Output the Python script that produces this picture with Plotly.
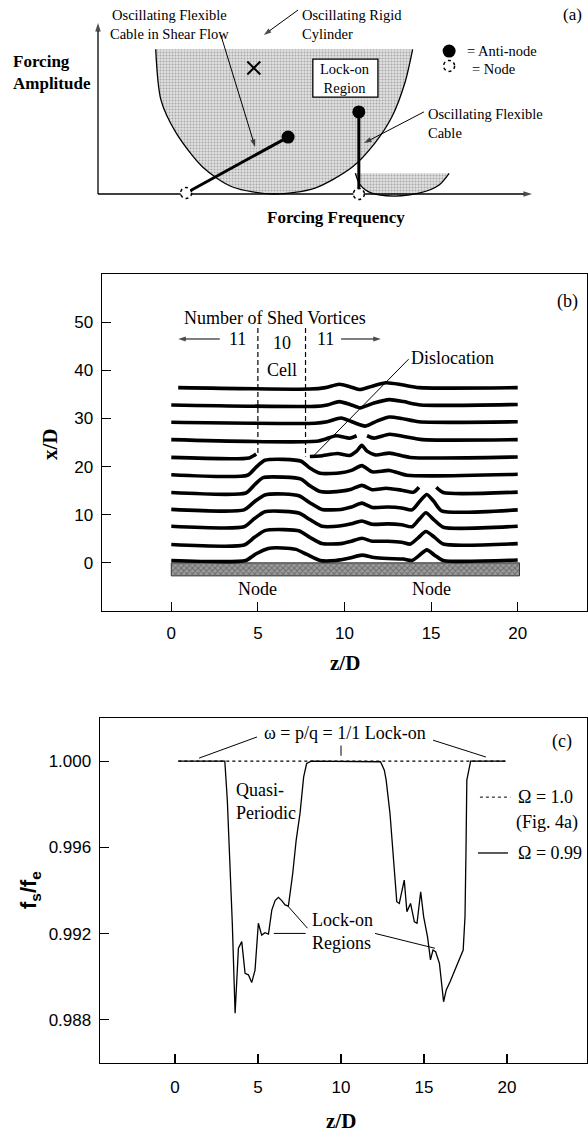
import plotly.graph_objects as go

SERIF = "Liberation Serif, Times New Roman, serif"
SANS = "Liberation Sans, Arial, sans-serif"

# ---------------- Panel (a): schematic, conceptual units (frequency 0-1, amplitude 0-1) ----------------
LOCKON_FREQ = [0.133, 0.145, 0.180, 0.241, 0.310, 0.405, 0.500, 0.586, 0.638, 0.677, 0.707, 0.725]
LOCKON_AMP = [0.846, 0.550, 0.357, 0.158, 0.041, 0.0, 0.035, 0.158, 0.298, 0.450, 0.649, 0.846]
SMALL_FREQ = [0.593, 0.604, 0.629, 0.682, 0.742, 0.786, 0.809]
SMALL_AMP = [0.121, 0.053, 0.006, -0.012, 0.006, 0.053, 0.121]
NODE_FREQ = [0.203, 0.601]
NODE_AMP = [0.006, 0.0]
ANTINODE_FREQ = [0.438, 0.601]
ANTINODE_AMP = [0.333, 0.480]
RIGID_FREQ = [0.359]
RIGID_AMP = [0.737]
LOCKBOX_FREQ = [0.495, 0.645]
LOCKBOX_AMP = [0.567, 0.789]

# ---------------- Panel (b): vortex lines, z/D vs x/D ----------------
C0_Z = [0, 4.3, 4.9, 5.6, 6.4, 7.2, 7.8, 8.6, 9.5, 10.3, 11.0, 11.7, 12.5, 13.4, 13.9, 14.3, 14.75, 15.2, 15.7, 20]
C0_X = [0.5, 0.5, 1.9, 3.0, 3.1, 2.8, 1.8, 0.5, 0.5, 1.0, 1.6, 1.1, 0.9, 0.8, 0.5, 1.5, 2.7, 1.6, 0.5, 0.6]
C1_Z = [0, 4.2, 4.8, 5.4, 6.5, 7.4, 8.0, 8.7, 9.8, 10.4, 11.0, 11.6, 12.5, 13.3, 13.8, 14.25, 14.7, 15.2, 15.7, 20]
C1_X = [3.8, 3.7, 5.3, 6.7, 6.9, 6.6, 5.3, 4.0, 4.0, 4.5, 5.1, 4.5, 4.5, 4.3, 3.9, 5.2, 6.5, 5.3, 3.9, 4.0]
C2_Z = [0, 4.2, 4.8, 5.4, 6.5, 7.4, 8.0, 8.7, 9.8, 10.4, 11.0, 11.6, 12.5, 13.3, 13.9, 14.3, 14.7, 15.15, 15.7, 20]
C2_X = [7.6, 7.5, 9.2, 10.6, 10.7, 10.3, 9.0, 7.6, 7.7, 8.1, 8.7, 8.0, 8.1, 7.9, 7.5, 9.0, 10.4, 9.0, 7.4, 7.6]
C3_Z = [0, 4.2, 4.8, 5.4, 6.5, 7.4, 8.0, 8.7, 9.8, 10.4, 11.0, 11.6, 12.5, 13.3, 13.9, 14.35, 14.75, 15.15, 15.6, 20]
C3_X = [11.1, 11.0, 12.7, 14.1, 14.3, 13.9, 12.5, 11.1, 11.1, 11.6, 12.4, 11.5, 11.6, 11.4, 11.0, 12.8, 14.2, 12.8, 10.8, 11.0]
C4_Z = [0, 4.3, 4.8, 5.3, 6.5, 7.5, 8.0, 8.6, 9.8, 10.4, 11.0, 11.6, 12.4, 13.3, 14.0, 14.3, None, 15.3, 15.7, 20]
C4_X = [14.6, 14.5, 16.2, 17.7, 17.8, 17.4, 16.0, 14.8, 14.9, 15.3, 16.1, 15.2, 15.5, 15.1, 14.7, 15.7, None, 15.7, 14.6, 14.7]
C5_Z = [0, 4.4, 4.9, 5.4, 6.5, 7.5, 8.0, 8.6, 9.8, 10.4, 11.0, 11.6, 12.6, 13.6, 20]
C5_X = [18.3, 18.2, 19.9, 21.3, 21.5, 21.1, 19.7, 18.6, 18.7, 19.2, 20.2, 18.9, 19.2, 18.2, 18.4]
C6_Z = [0, 4.5, 4.9, None, 8.0, 8.6, 9.6, 10.3, 10.7, 11.0, 11.3, 11.8, 12.6, 13.8, 20]
C6_X = [21.9, 21.8, 22.6, None, 22.1, 22.2, 22.7, 22.3, 23.2, 24.4, 23.2, 22.4, 22.8, 21.9, 22.0]
C7_Z = [0, 8.5, 9.5, 10.3, 10.7, None, 11.3, 11.7, 12.6, 13.5, 14.5, 20]
C7_X = [25.6, 25.3, 26.4, 25.9, 26.4, None, 26.4, 25.9, 26.7, 26.2, 25.6, 25.6]
C8_Z = [0, 8.3, 9.0, 9.8, 10.5, 11.2, 11.9, 12.6, 13.3, 14.3, 20]
C8_X = [29.2, 29.0, 29.3, 30.1, 29.2, 28.4, 29.5, 30.3, 30.0, 29.3, 29.3]
C9_Z = [0, 8.3, 9.0, 9.7, 10.4, 10.9, 11.7, 12.6, 13.4, 14.4, 20]
C9_X = [32.8, 32.5, 32.8, 33.5, 32.8, 32.2, 33.2, 33.9, 33.5, 32.8, 32.9]
C10_Z = [0.4, 8.0, 8.9, 9.7, 10.4, 10.9, 11.6, 12.4, 13.3, 14.3, 20]
C10_X = [36.4, 36.1, 36.4, 37.1, 36.5, 36.0, 36.7, 37.4, 37.0, 36.4, 36.4]
CELL_Z = [5.0, 7.75]
CELL_TOP = [48.8, 48.8]
CELL_BOTTOM = [22.8, 22.1]
BED_Z = [0, 20.1]
BED_X = [-2.7, 0]
B_XTICKS = [0, 5, 10, 15, 20]
B_YTICKS = [0, 10, 20, 30, 40, 50]

# ---------------- Panel (c): fs/fe vs z/D ----------------
OMEGA1_Z = [0.2, 19.9]
OMEGA1_F = [1.000, 1.000]
OMEGA099_Z = [0.2, 3.0, 3.15, 3.3, 3.45, 3.62, 3.82, 4.02, 4.22, 4.42, 4.62, 4.82, 5.02, 5.22, 5.42, 5.63,
              5.83, 6.03, 6.23, 6.43, 6.63, 6.83, 7.09, 7.3, 7.53, 7.75, 7.93, 8.2, 12.05, 12.38, 12.61,
              12.72, 12.95, 13.17, 13.36, 13.51, 13.81, 13.97, 14.19, 14.42, 14.58, 14.80, 14.98, 15.21,
              15.39, 15.54, 15.70, 15.93, 16.07, 16.18, 16.34, 16.57, 17.36, 17.47, 17.53, 17.58, 17.81, 19.9]
OMEGA099_F = [1.000, 1.000, 0.9982, 0.9955, 0.9925, 0.98831, 0.99132, 0.99163, 0.99016, 0.99009, 0.98973,
              0.99031, 0.99248, 0.99193, 0.99204, 0.99198, 0.99309, 0.99353, 0.99368, 0.99353, 0.99333,
              0.99328, 0.99479, 0.99634, 0.99758, 0.99927, 0.99989, 1.000, 1.000, 0.99997, 0.99958,
              0.99912, 0.99758, 0.99541, 0.99348, 0.99340, 0.99448, 0.99302, 0.99340, 0.99255, 0.99248,
              0.99394, 0.99278, 0.99186, 0.99078, 0.99124, 0.99116, 0.99062, 0.98970, 0.98884, 0.98939,
              0.98977, 0.99124, 0.99278, 0.99587, 0.99912, 1.000, 1.000]
C_XTICKS = [0, 5, 10, 15, 20]
C_YTICKS = [0.988, 0.992, 0.996, 1.000]

fig = go.Figure()

# ===== Panel (a) =====
pa = dict(xaxis="x3", yaxis="y3", hoverinfo="skip", showlegend=False)
for fx, fy in [(LOCKON_FREQ, LOCKON_AMP), (SMALL_FREQ, SMALL_AMP)]:
    fig.add_trace(go.Scatter(x=fx, y=fy, mode="lines", fill="toself", fillcolor="rgba(0,0,0,0)",
                             fillpattern=dict(shape=".", fgcolor="#707070", bgcolor="#e0e0e0", size=3, solidity=0.35),
                             line=dict(width=0, shape="spline", smoothing=0.8), **pa))
    fig.add_trace(go.Scatter(x=fx, y=fy, mode="lines", line=dict(color="black", width=1.3, shape="spline", smoothing=0.8), **pa))

for i in range(len(NODE_FREQ)):
    fig.add_trace(go.Scatter(x=[NODE_FREQ[i], ANTINODE_FREQ[i]], y=[NODE_AMP[i], ANTINODE_AMP[i]], mode="lines",
                             line=dict(color="black", width=3), **pa))
fig.add_trace(go.Scatter(x=ANTINODE_FREQ + [0.809], y=ANTINODE_AMP + [0.836], mode="markers",
                         marker=dict(color="black", size=13, symbol="circle"), **pa))
fig.add_trace(go.Scatter(x=RIGID_FREQ, y=RIGID_AMP, mode="markers",
                         marker=dict(symbol="x-thin", size=13, line=dict(color="black", width=2)), **pa))

shapes = []
rx, ry = 0.0127, 0.032
for fx, fy in list(zip(NODE_FREQ, NODE_AMP)) + [(0.809, 0.749)]:
    shapes.append(dict(type="circle", xref="x3", yref="y3", x0=fx - rx, x1=fx + rx, y0=fy - ry, y1=fy + ry,
                       line=dict(color="black", width=1.5, dash="dot"), fillcolor="white"))
shapes.append(dict(type="rect", xref="x3", yref="y3", x0=LOCKBOX_FREQ[0], x1=LOCKBOX_FREQ[1],
                   y0=LOCKBOX_AMP[0], y1=LOCKBOX_AMP[1], line=dict(color="black", width=1.3), fillcolor="white",
                   layer="above"))

ann = []


def txt(x, y, s, xref, yref, size=18, family=SERIF, xanchor="center", yanchor="middle", align="center", angle=0):
    ann.append(dict(x=x, y=y, text=s, xref=xref, yref=yref, showarrow=False, xanchor=xanchor, yanchor=yanchor,
                    align=align, textangle=angle, font=dict(family=family, size=size, color="black")))


def arrow(x, y, ax, ay, xa, ya, width=1.0, size=9):
    # line from (ax, ay) to the arrow tip at (x, y), with a head oriented along the segment
    fig.add_trace(go.Scatter(x=[ax, x], y=[ay, y], mode="lines+markers", xaxis=xa, yaxis=ya,
                             line=dict(color="black", width=width),
                             marker=dict(symbol="arrow", size=[0, size], angleref="previous", color="black",
                                         line=dict(width=0)),
                             hoverinfo="skip", showlegend=False, cliponaxis=False))


def seg(x0, y0, x1, y1, xref, yref, width=1.0, dash="solid"):
    shapes.append(dict(type="line", xref=xref, yref=yref, x0=x0, y0=y0, x1=x1, y1=y1,
                       line=dict(color="black", width=width, dash=dash)))


# axes arrows
arrow(1.0, 0.0, 0.0, 0.0, "x3", "y3", width=1.3, size=9)
arrow(0.0, 1.0, 0.0, 0.0, "x3", "y3", width=1.3, size=9)
txt(-0.2, 0.713, "<b>Forcing<br>Amplitude</b>", "x3", "y3", size=17, xanchor="left", align="left")
txt(0.548, -0.14, "<b>Forcing Frequency</b>", "x3", "y3", size=17)
txt(0.164, 0.99, "Oscillating Flexible<br>Cable in Shear Flow", "x3", "y3", size=14.5)
arrow(0.362, 0.275, 0.283, 0.93, "x3", "y3", width=1.0, size=8)
txt(0.465, 0.99, "Oscillating Rigid<br>Cylinder", "x3", "y3", size=14.5, xanchor="left", align="left")
arrow(0.382, 0.93, 0.461, 1.076, "x3", "y3", width=1.0, size=8)
txt(0.756, 0.415, "Oscillating Flexible<br>Cable", "x3", "y3", size=14.5, xanchor="left", align="left")
arrow(0.613, 0.298, 0.751, 0.48, "x3", "y3", width=1.0, size=8)
txt(0.570, 0.678, "Lock-on<br>Region", "x3", "y3", size=14.5)
txt(0.846, 0.836, "= Anti-node", "x3", "y3", size=14.5, xanchor="left")
txt(0.857, 0.730, "= Node", "x3", "y3", size=14.5, xanchor="left")
txt(1.094, 1.05, "(a)", "x3", "y3", size=17)

# ===== Panel (b) =====
fig.add_trace(go.Scatter(x=[BED_Z[0], BED_Z[1], BED_Z[1], BED_Z[0], BED_Z[0]],
                         y=[BED_X[0], BED_X[0], BED_X[1], BED_X[1], BED_X[0]], mode="lines", fill="toself",
                         fillcolor="#8f8f8f",
                         fillpattern=dict(shape="x", fgcolor="#404040", bgcolor="#9c9c9c", size=4, solidity=0.45),
                         line=dict(color="#333333", width=1), xaxis="x", yaxis="y", hoverinfo="skip",
                         showlegend=False))
for zz, xx in [(C0_Z, C0_X), (C1_Z, C1_X), (C2_Z, C2_X), (C3_Z, C3_X), (C4_Z, C4_X), (C5_Z, C5_X),
               (C6_Z, C6_X), (C7_Z, C7_X), (C8_Z, C8_X), (C9_Z, C9_X), (C10_Z, C10_X)]:
    fig.add_trace(go.Scatter(x=zz, y=xx, mode="lines", connectgaps=False,
                             line=dict(color="black", width=3.6, shape="spline", smoothing=0.6),
                             xaxis="x", yaxis="y", hoverinfo="skip", showlegend=False))
for i in range(len(CELL_Z)):
    fig.add_trace(go.Scatter(x=[CELL_Z[i], CELL_Z[i]], y=[CELL_TOP[i], CELL_BOTTOM[i]], mode="lines",
                             line=dict(color="black", width=1.2, dash="5px,3px"), xaxis="x", yaxis="y",
                             hoverinfo="skip", showlegend=False))

txt(6.0, 50.9, "Number of Shed Vortices", "x", "y", size=18)
txt(3.8, 46.5, "11", "x", "y", size=18)
txt(6.4, 45.6, "10", "x", "y", size=18)
txt(8.9, 46.5, "11", "x", "y", size=18)
txt(6.4, 40.1, "Cell", "x", "y", size=18)
arrow(0.4, 46.5, 2.8, 46.5, "x", "y", width=1.0, size=8)
arrow(12.1, 46.5, 9.8, 46.5, "x", "y", width=1.0, size=8)
txt(13.75, 42.6, "Dislocation", "x", "y", size=18, xanchor="left")
seg(13.7, 42.3, 8.1, 21.8, "x", "y", width=1.0)
txt(5.0, -5.5, "Node", "x", "y", size=18)
txt(15.0, -5.5, "Node", "x", "y", size=18)
txt(22.9, 54.2, "(b)", "x", "y", size=18)
txt(50 / 588, 1 - 444 / 1134, "<b>x/D</b>", "paper", "paper", size=21, angle=-90)
txt(10, 1 - 663 / 1134, "<b>z/D</b>", "x", "paper", size=21)

# ===== Panel (c) =====
fig.add_trace(go.Scatter(x=OMEGA1_Z, y=OMEGA1_F, mode="lines", line=dict(color="black", width=1.1, dash="dot"),
                         xaxis="x2", yaxis="y2", hoverinfo="skip", showlegend=False))
fig.add_trace(go.Scatter(x=OMEGA099_Z, y=OMEGA099_F, mode="lines", line=dict(color="black", width=1.3),
                         xaxis="x2", yaxis="y2", hoverinfo="skip", showlegend=False))

txt(10.24, 1.0013, "\u03c9 = p/q = 1/1 Lock-on", "x2", "y2", size=18)
seg(4.94, 1.00112, 1.45, 1.00014, "x2", "y2", width=1.0)
seg(15.55, 1.00097, 18.73, 1.00019, "x2", "y2", width=1.0)
seg(10.0, 1.00072, 10.0, 1.00025, "x2", "y2", width=1.0)
txt(23.3, 1.00093, "(c)", "x2", "y2", size=18)
txt(3.55, 0.99815, "Quasi-<br>Periodic", "x2", "y2", size=18, xanchor="left", align="left")
seg(18.37, 0.99833, 20.2, 0.99833, "x2", "y2", width=1.0, dash="dot")
txt(20.54, 0.99833, "\u03a9 = 1.0", "x2", "y2", size=18, xanchor="left")
txt(20.42, 0.99717, "(Fig. 4a)", "x2", "y2", size=18, xanchor="left")
seg(18.25, 0.99574, 20.06, 0.99574, "x2", "y2", width=1.3)
txt(20.54, 0.99574, "\u03a9 = 0.99", "x2", "y2", size=18, xanchor="left")
txt(8.13, 0.99212, "Lock-on<br>Regions", "x2", "y2", size=18, xanchor="left", align="left")
seg(7.98, 0.99225, 6.74, 0.99333, "x2", "y2", width=1.0)
seg(7.87, 0.99201, 5.95, 0.99201, "x2", "y2", width=1.0)
seg(12.05, 0.99201, 15.66, 0.99132, "x2", "y2", width=1.0)
txt(30 / 588, 1 - 890 / 1134, "<b>f<sub>s</sub>/f<sub>e</sub></b>", "paper", "paper", size=22, family=SANS, angle=-90)
txt(10, 1 - 1121 / 1134, "<b>z/D</b>", "x2", "paper", size=21)

axis_common = dict(showgrid=False, zeroline=False, showline=True, linecolor="black", linewidth=1.4,
                   mirror=True, ticks="inside", ticklen=9, tickwidth=1.2, tickcolor="black",
                   tickfont=dict(family=SANS, size=17, color="black"))

fig.update_layout(
    width=588, height=1134, margin=dict(l=0, r=0, t=0, b=0),
    paper_bgcolor="white", plot_bgcolor="rgba(0,0,0,0)", showlegend=False,
    xaxis=dict(domain=[102 / 588, 587 / 588], range=[-4, 24], tickvals=B_XTICKS, anchor="y",
               ticklabelstandoff=6, **axis_common),
    yaxis=dict(domain=[1 - 611 / 1134, 1 - 274 / 1134], range=[-10, 60], tickvals=B_YTICKS, anchor="x",
               ticklabelstandoff=4, **axis_common),
    xaxis2=dict(domain=[100 / 588, 587 / 588], range=[-4.52, 24.82], tickvals=C_XTICKS, anchor="y2",
                ticklabelstandoff=8, **axis_common),
    yaxis2=dict(domain=[1 - 1063 / 1134, 1 - 718 / 1134], range=[0.986, 1.002], tickvals=C_YTICKS,
                tickformat=".3f", anchor="x2", ticklabelstandoff=4, **axis_common),
    xaxis3=dict(domain=[0, 1], range=[-98 / 434, 490 / 434], visible=False, anchor="y3"),
    yaxis3=dict(domain=[1 - 240 / 1134, 1], range=[-46 / 171, 194 / 171], visible=False, anchor="x3"),
    shapes=shapes, annotations=ann,
)

fig.write_html("out.html", config={"displayModeBar": False, "staticPlot": True},
               post_script="document.body.style.margin='0';document.body.style.overflow='hidden';")
